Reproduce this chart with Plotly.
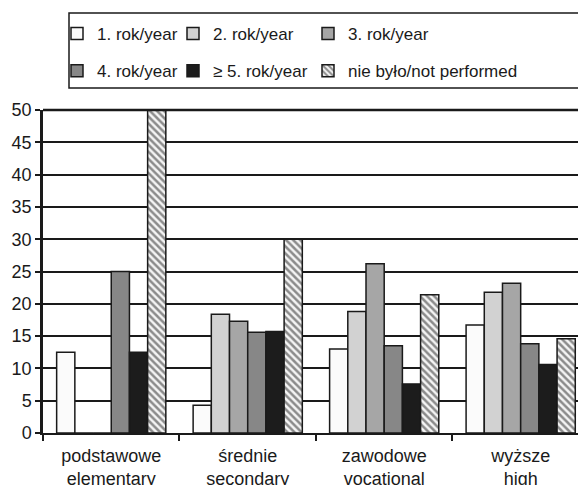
import plotly.graph_objects as go

categories = ["podstawowe<br>elementary", "średnie<br>secondary", "zawodowe<br>vocational", "wyższe<br>high"]
series_names = ["1. rok/year", "2. rok/year", "3. rok/year", "4. rok/year", "≥ 5. rok/year", "nie było/not performed"]
rok1 = [12.5, 4.3, 13.0, 16.7]
rok2 = [0, 18.4, 18.8, 21.8]
rok3 = [0, 17.3, 26.2, 23.2]
rok4 = [25, 15.6, 13.5, 13.8]
rok5 = [12.5, 15.7, 7.6, 10.6]
not_performed = [50, 30, 21.4, 14.6]
y_ticks = [0, 5, 10, 15, 20, 25, 30, 35, 40, 45, 50]

series_values = [rok1, rok2, rok3, rok4, rok5, not_performed]
colors = ["#fbfbfb", "#d2d2d2", "#a6a6a6", "#878787", "#1c1c1c", "#ffffff"]
legends = ["legend", "legend2", "legend3", "legend", "legend2", "legend3"]

# plot area in pixels
L, R, T, B = 43, 578, 110, 433
W, H = 578, 485
def px(x):
    return (x - L) / (R - L)
def py(y):
    return (B - y) / (B - T)

fig = go.Figure()
for i, (name, vals) in enumerate(zip(series_names, series_values)):
    marker = dict(color=colors[i], line=dict(color="#1a1a1a", width=1.5))
    if i == 5:
        marker["pattern"] = dict(shape="\\", fgcolor="#222222", bgcolor="#f4f4f4", size=5, solidity=0.5)
    fig.add_trace(go.Bar(
        x=categories, y=vals, name=name, marker=marker,
        legend=legends[i], legendgroup=name,
    ))

font_family = "Liberation Sans, Arial, sans-serif"
leg_common = dict(
    orientation="v", xanchor="left", yanchor="top",
    bgcolor="rgba(0,0,0,0)", borderwidth=0,
    font=dict(family=font_family, size=17, color="#1a1a1a"),
    tracegroupgap=12, itemwidth=30,
)
ly = py(16)
fig.update_layout(
    width=W, height=H,
    margin=dict(l=L, r=W - R, t=T, b=H - B, autoexpand=False),
    paper_bgcolor="white", plot_bgcolor="white",
    barmode="group", bargap=0.2, bargroupgap=0,
    font=dict(family=font_family, size=17, color="#1a1a1a"),
    legend=dict(x=px(57), y=ly, **leg_common),
    legend2=dict(x=px(173), y=ly, **leg_common),
    legend3=dict(x=px(308), y=ly, **leg_common),
    xaxis=dict(
        type="category", range=[-0.5, 3.42],
        tickson="boundaries", ticks="outside", ticklen=6, tickwidth=1.5, tickcolor="#1a1a1a",
        showline=True, linecolor="#1a1a1a", linewidth=2,
        showgrid=False, tickfont=dict(size=18), ticklabelstandoff=5,
    ),
    yaxis=dict(
        range=[0, 50], tickvals=y_ticks,
        ticks="outside", ticklen=5, tickwidth=1.5, tickcolor="#1a1a1a",
        showline=True, linecolor="#1a1a1a", linewidth=2.5,
        showgrid=True, gridcolor="#1a1a1a", gridwidth=1.5,
        zeroline=False, tickfont=dict(size=18),
    ),
    shapes=[
        dict(type="line", xref="paper", yref="paper", x0=0, x1=1, y0=1, y1=1,
             line=dict(color="#1a1a1a", width=2.5)),
        dict(type="rect", xref="paper", yref="paper", x0=px(69), x1=1.05, y0=py(88), y1=py(13),
             line=dict(color="#1a1a1a", width=1.5)),
    ],
)

fig.write_html("out.html", config={"displayModeBar": False},
               post_script="document.body.style.margin='0';document.body.style.overflow='hidden';")
